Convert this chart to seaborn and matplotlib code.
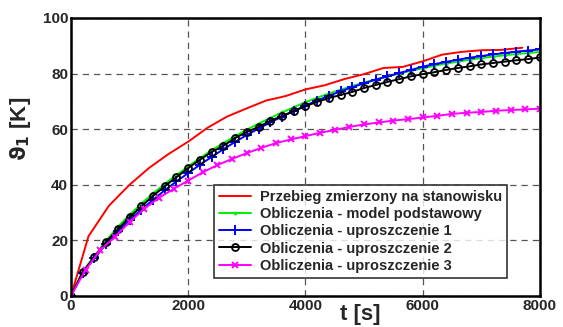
import matplotlib
matplotlib.use("Agg")
import matplotlib.pyplot as plt
import numpy as np
import pandas as pd
import seaborn as sns

# measured curve (irregular sampling)
t_meas = [0, 300, 650, 1000, 1330, 1660, 2000, 2330, 2660, 3000, 3330, 3660,
          4000, 4330, 4660, 5000, 5330, 5660, 6000, 6330, 6660, 7000, 7330, 7700]
y_meas = [0, 21.5, 32.5, 40, 46, 51, 55.5, 60.5, 64.5, 67.5, 70.3, 71.9,
          74.3, 75.8, 78, 79.8, 82, 82.4, 84.4, 86.8, 87.8, 88.4, 88.5, 89.3]

# calculated curves, 200 s step
t_calc = list(range(0, 8001, 200))
y_base = [0, 8.8, 14.4, 19.9, 24.9, 29.2, 33.2, 36.9, 40.3, 43.5, 46.6, 49.6, 52.4, 55,
          57.5, 59.8, 62, 64, 66, 67.9, 69.7, 71.3, 72.8, 74.2, 75.5, 76.8, 77.9, 79,
          80, 81, 81.9, 82.8, 83.6, 84.3, 85, 85.6, 86.1, 86.6, 87, 87.4, 87.8]
y_upr1 = [0, 8.3, 13.5, 18.7, 23.3, 27.3, 31, 34.6, 38, 41.2, 44.2, 47.2, 50, 52.8,
          55.4, 57.9, 60.2, 62.4, 64.5, 66.5, 68.5, 70.3, 72, 73.6, 75.1, 76.5, 77.8,
          79, 80.2, 81.3, 82.5, 83.4, 84.2, 85, 85.7, 86.3, 86.9, 87.4, 87.9, 88.3, 88.7]
y_upr2 = [0, 8.6, 14, 19.4, 24, 28.3, 32.2, 36, 39.5, 42.7, 46, 49, 51.8, 54, 56.8,
          59, 60.8, 63, 64.7, 66.5, 68.3, 69.8, 71.2, 72.3, 73.4, 74.8, 75.9, 77, 78,
          79, 79.8, 80.5, 81.3, 82, 82.6, 83.3, 83.8, 84.3, 84.8, 85.2, 85.8]

# simplification 3, 250 s step
t_upr3 = list(range(0, 8001, 250))
y_upr3 = [0, 9.4, 16.5, 21.2, 26.6, 31.3, 35.3, 38.5, 41.5, 44.5, 47.1, 49.3, 51.4,
          53.3, 55, 56.3, 57.5, 58.7, 59.7, 60.8, 61.7, 62.4, 63.1, 63.6, 64.2, 64.8,
          65.5, 65.9, 66.2, 66.6, 66.9, 67.1, 67.4]

labels = [
    "Przebieg zmierzony na stanowisku",
    "Obliczenia - model podstawowy",
    "Obliczenia - uproszczenie 1",
    "Obliczenia - uproszczenie 2",
    "Obliczenia - uproszczenie 3",
]

sns.set_style("white")
plt.rcParams["font.family"] = ["Liberation Sans", "DejaVu Sans"]
plt.rcParams["font.weight"] = "bold"

fig = plt.figure(figsize=(5.63, 3.27), dpi=100)
ax = fig.add_axes([0.126, 0.095, 0.833, 0.85])

series = [
    (t_meas, y_meas, "#ff0000", dict(marker=None)),
    (t_calc, y_base, "#00ee00", dict(marker=".", markersize=4)),
    (t_calc, y_upr1, "#0000ff", dict(marker="+", markersize=7, markeredgewidth=1.4)),
    (t_calc, y_upr2, "#000000", dict(marker="o", markersize=5, markerfacecolor="none",
                                     markeredgewidth=1.3)),
    (t_upr3, y_upr3, "#ff00ff", dict(marker="x", markersize=5, markeredgewidth=1.4)),
]
for (t, y, color, kw), label in zip(series, labels):
    df = pd.DataFrame({"t": t, "y": y})
    sns.lineplot(data=df, x="t", y="y", color=color, linewidth=1.4, label=label,
                 ax=ax, markeredgecolor=color, **kw)

ax.set_xlim(0, 8000)
ax.set_ylim(0, 100)
ax.set_xticks([0, 2000, 4000, 6000, 8000])
ax.set_yticks([0, 20, 40, 60, 80, 100])
ax.grid(True, linestyle=(0, (5, 4)), color="#555555", linewidth=0.9)
ax.tick_params(direction="in", length=4, width=1.5, labelsize=11, pad=2)
for lab in ax.get_xticklabels() + ax.get_yticklabels():
    lab.set_fontweight("bold")
for sp in ax.spines.values():
    sp.set_linewidth(1.8)
    sp.set_color("black")

ax.set_xlabel("t [s]", fontsize=16, fontweight="bold")
ax.xaxis.set_label_coords(0.616, -0.03)
ax.set_ylabel(r"$\mathbf{\vartheta_1}$ [K]", fontsize=16, fontweight="bold")
ax.yaxis.set_label_coords(-0.08, 0.6)

leg = ax.legend(loc="lower right", bbox_to_anchor=(0.93, 0.065), borderaxespad=0,
                fontsize=10.5, frameon=True, fancybox=False, handlelength=2.2,
                labelspacing=0.22, borderpad=0.35, handletextpad=0.6)
leg.get_frame().set_edgecolor("black")
leg.get_frame().set_linewidth(1.2)
for txt in leg.get_texts():
    txt.set_fontweight("bold")

fig.savefig("out.png", dpi=100)
